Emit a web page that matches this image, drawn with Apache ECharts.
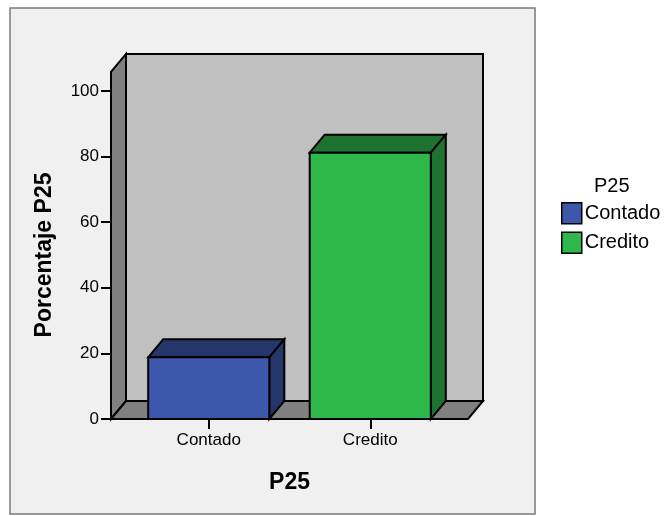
<!DOCTYPE html>
<html>
<head>
<meta charset="utf-8">
<script src="https://cdn.jsdelivr.net/npm/echarts@6/dist/echarts.min.js"></script>
<style>
  html, body { margin: 0; padding: 0; background: #ffffff; }
  #chart { width: 665px; height: 516px; }
</style>
</head>
<body>
<div id="chart"></div>
<script>
// Data
const categories = ['Contado', 'Credito'];
const percentages = [18.8, 81.2];
const yTickValues = [0, 20, 40, 60, 80, 100];
const xAxisTitle = 'P25';
const yAxisTitle = 'Porcentaje P25';
const legendTitle = 'P25';

// Styling
const FONT = '"Liberation Sans", Arial, Helvetica, sans-serif';
const DEPTH_X = 15;      // 3D depth offset, horizontal (px)
const DEPTH_Y = 18;      // 3D depth offset, vertical (px)
const WALL_PAD = 17;     // floor overhang past the outer category bands (px)
const WALL_TOP = 105.8;  // height of side/back walls in axis units
const BAR_RATIO = 0.75;  // bar width as a share of the category band
const colors = {
  Contado: { front: '#3d58ab', top: '#25366b', side: '#25366b' },
  Credito: { front: '#2eb84b', top: '#1e7330', side: '#1e7330' }
};
const edge = { stroke: '#000000', lineWidth: 2, lineJoin: 'miter' };

// Back wall, left wall and floor of the 3D frame
function renderWalls(params, api) {
  const cs = params.coordSys;
  const y0 = api.coord([0, 0])[1];
  const yT = api.coord([0, WALL_TOP])[1];
  const x0 = cs.x - WALL_PAD;
  const x1 = cs.x + cs.width + WALL_PAD;
  const dx = DEPTH_X, dy = DEPTH_Y;
  return {
    type: 'group',
    children: [
      { type: 'polygon', shape: { points: [[x0 + dx, yT - dy], [x1 + dx, yT - dy], [x1 + dx, y0 - dy], [x0 + dx, y0 - dy]] },
        style: Object.assign({ fill: '#c0c0c0' }, edge) },
      { type: 'polygon', shape: { points: [[x0, yT], [x0 + dx, yT - dy], [x0 + dx, y0 - dy], [x0, y0]] },
        style: Object.assign({ fill: '#808080' }, edge) },
      { type: 'polygon', shape: { points: [[x0, y0], [x0 + dx, y0 - dy], [x1 + dx, y0 - dy], [x1, y0]] },
        style: Object.assign({ fill: '#808080' }, edge) }
    ]
  };
}

// A box-shaped bar: front face, top face and right side
function boxRenderer(name) {
  const c = colors[name];
  return function (params, api) {
    const idx = api.value(0);
    const val = api.value(1);
    const base = api.coord([idx, 0]);
    const top = api.coord([idx, val]);
    const w = api.size([1, 0])[0] * BAR_RATIO;
    const xl = base[0] - w / 2, xr = base[0] + w / 2;
    const yb = base[1], yt = top[1];
    const dx = DEPTH_X, dy = DEPTH_Y;
    return {
      type: 'group',
      children: [
        { type: 'polygon', shape: { points: [[xl, yt], [xl + dx, yt - dy], [xr + dx, yt - dy], [xr, yt]] },
          style: Object.assign({ fill: c.top }, edge) },
        { type: 'polygon', shape: { points: [[xr, yt], [xr + dx, yt - dy], [xr + dx, yb - dy], [xr, yb]] },
          style: Object.assign({ fill: c.side }, edge) },
        { type: 'rect', shape: { x: xl, y: yt, width: w, height: yb - yt },
          style: Object.assign({ fill: c.front }, edge) }
      ]
    };
  };
}

const barSeries = categories.map(function (name, i) {
  return {
    name: name,
    type: 'custom',
    z: 3,
    clip: false,
    silent: true,
    itemStyle: { color: colors[name].front, borderColor: '#000', borderWidth: 1.5 },
    encode: { x: 0, y: 1 },
    data: [[i, percentages[i]]],
    renderItem: boxRenderer(name)
  };
});

const chart = echarts.init(document.getElementById('chart'), null, { renderer: 'canvas' });
chart.setOption({
  animation: false,
  backgroundColor: '#ffffff',
  textStyle: { fontFamily: FONT },
  graphic: [
    { type: 'rect', z: -10, shape: { x: 10, y: 8, width: 525, height: 506 },
      style: { fill: '#f0f0f0', stroke: '#7a7a7a', lineWidth: 1.5 } },
    { type: 'text', left: 594, top: 176,
      style: { text: legendTitle, fontFamily: FONT, fontSize: 20, fill: '#000' } }
  ],
  grid: { left: 128, right: 214, top: 91, bottom: 97, containLabel: false },
  xAxis: {
    type: 'category',
    data: categories,
    boundaryGap: true,
    name: xAxisTitle,
    nameLocation: 'middle',
    nameGap: 52,
    nameTextStyle: { fontFamily: FONT, fontSize: 23, fontWeight: 'bold', color: '#000' },
    axisLine: { show: false },
    axisTick: { show: true, alignWithLabel: true, length: 10, lineStyle: { color: '#000', width: 2 } },
    axisLabel: { fontFamily: FONT, fontSize: 17, color: '#000', margin: 13 },
    splitLine: { show: false }
  },
  yAxis: {
    type: 'value',
    min: yTickValues[0],
    max: yTickValues[yTickValues.length - 1],
    interval: yTickValues[1] - yTickValues[0],
    offset: WALL_PAD,
    name: yAxisTitle,
    nameLocation: 'middle',
    nameGap: 55,
    nameRotate: 90,
    nameTextStyle: { fontFamily: FONT, fontSize: 23, fontWeight: 'bold', color: '#000' },
    axisLine: { show: false },
    axisTick: { show: true, length: 10, lineStyle: { color: '#000', width: 2 } },
    axisLabel: { fontFamily: FONT, fontSize: 17, color: '#000', margin: 12 },
    splitLine: { show: false }
  },
  legend: {
    data: categories,
    orient: 'vertical',
    left: 561,
    top: 202,
    padding: 0,
    itemWidth: 20,
    itemHeight: 21,
    itemGap: 7,
    icon: 'rect',
    itemStyle: { borderColor: '#000', borderWidth: 1.5 },
    textStyle: { fontFamily: FONT, fontSize: 20, lineHeight: 21, color: '#000', padding: [0, 0, 0, -2] },
    selectedMode: false
  },
  series: [
    {
      type: 'custom',
      z: 1,
      clip: false,
      silent: true,
      encode: { x: 0, y: 1 },
      data: [[0, 0]],
      renderItem: renderWalls
    }
  ].concat(barSeries)
});
</script>
</body>
</html>
